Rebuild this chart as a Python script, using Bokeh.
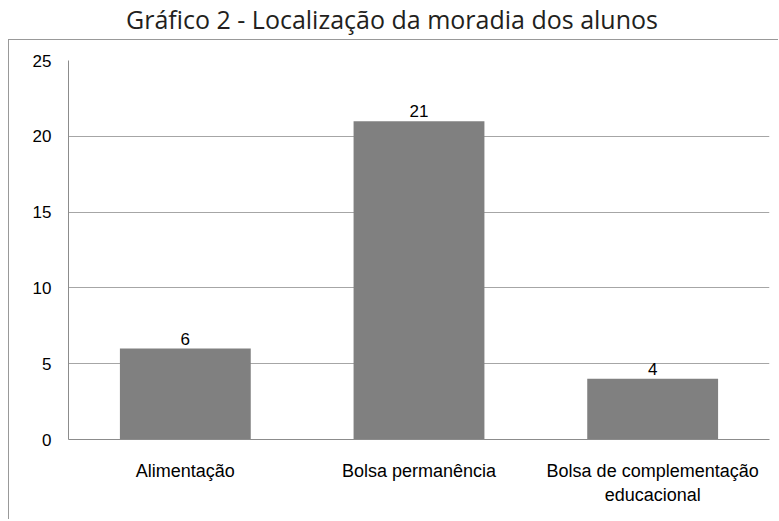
from bokeh.plotting import figure
from bokeh.models import Div, Range1d, FactorRange, ColumnDataSource, FixedTicker
from bokeh.layouts import column
from bokeh.core.properties import value
from bokeh.embed import file_html
from bokeh.resources import INLINE

title_text = "Gráfico 2 - Localização da moradia dos alunos"
categories = ["Alimentação", "Bolsa permanência", "Bolsa de complementação\neducacional"]
counts = [6, 21, 4]
y_ticks = [0, 5, 10, 15, 20, 25]

title = Div(text=title_text, width=768, height=31,
            styles={"font-family": "Open Sans", "font-size": "25px", "color": "#231f20",
                    "text-align": "center", "width": "768px", "line-height": "22px",
                    "margin": "0", "padding": "0", "white-space": "nowrap"})

p = figure(x_range=FactorRange(factors=categories, range_padding=0),
           y_range=Range1d(0, 25), width=770, height=480,
           output_backend="svg", toolbar_location=None,
           min_border_left=59, min_border_right=10, min_border_top=20, min_border_bottom=81,
           styles={"border-left": "1px solid #999999", "border-top": "1px solid #999999"})
p.outline_line_color = None
p.background_fill_color = "white"

src = ColumnDataSource(dict(cat=categories, n=counts, lab=[str(c) for c in counts]))
p.vbar(x="cat", top="n", width=0.56, source=src, fill_color="#808080", line_color=None)
p.text(x="cat", y="n", text="lab", source=src, text_align="center", text_baseline="bottom",
       y_offset=-4, text_font=value("Liberation Sans"), text_font_size="17px", text_color="#000000")

p.ygrid.ticker = FixedTicker(ticks=y_ticks)
p.ygrid.grid_line_color = "#a6a6a6"
p.ygrid.grid_line_width = 1
p.xgrid.grid_line_color = None

p.yaxis.ticker = FixedTicker(ticks=y_ticks)
p.yaxis.axis_line_color = "#8c8c8c"
p.yaxis.major_tick_line_color = None
p.yaxis.minor_tick_line_color = None
p.yaxis.major_label_standoff = 11
p.yaxis.major_label_text_font = "Liberation Sans"
p.yaxis.major_label_text_font_size = "17px"
p.yaxis.major_label_text_color = "#000000"

xa = p.xaxis[0]
xa.axis_line_color = "#8c8c8c"
xa.major_tick_line_color = None
xa.minor_tick_line_color = None
xa.major_label_standoff = 15
xa.major_label_text_font = "Liberation Sans"
xa.major_label_text_font_size = "18px"
xa.major_label_text_color = "#000000"

layout = column(title, p, spacing=0, margin=(8, 0, 0, 8))
open("out.html", "w").write(file_html(layout, INLINE))
